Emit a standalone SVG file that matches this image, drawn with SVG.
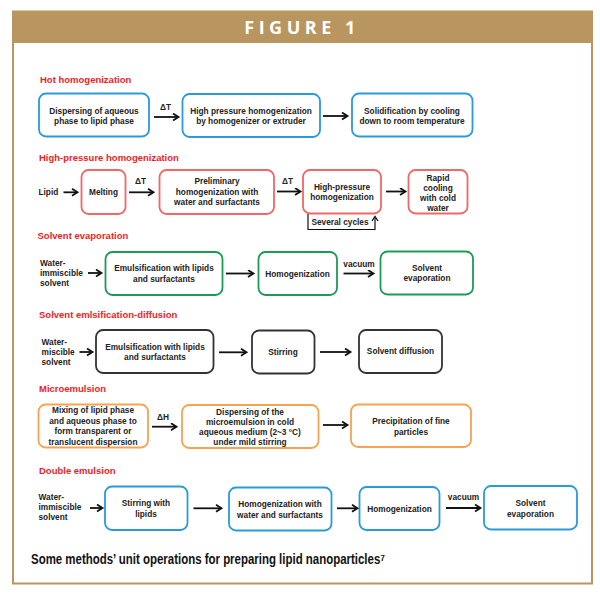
<svg xmlns="http://www.w3.org/2000/svg" width="600" height="598" viewBox="0 0 600 598">
<style>
.t{font-family:"Liberation Sans",Arial,sans-serif;font-size:8.3px;font-weight:bold;fill:#222;text-anchor:middle}
.l{font-family:"Liberation Sans",Arial,sans-serif;font-size:8.3px;font-weight:bold;fill:#222}
.h{font-family:"Liberation Sans",Arial,sans-serif;font-size:9.5px;font-weight:bold;fill:#ee1c25}
.b{fill:#fff;stroke-width:1.8}
.blue{stroke:#2a9ad9}
.red{stroke:#ef6767}
.green{stroke:#1c9b55}
.black{stroke:#333}
.orange{stroke:#f7a350}
.a{stroke:#111;stroke-width:1.8;fill:none;marker-end:url(#ah)}
.c{stroke:#111;stroke-width:1.2;fill:none}
</style>
<defs>
<marker id="ah" markerUnits="userSpaceOnUse" markerWidth="10" markerHeight="10" refX="6" refY="4" orient="auto">
<path d="M1,0.5 L6.5,4 L1,7.5" fill="none" stroke="#111" stroke-width="1.8"/>
</marker>
<marker id="ah2" markerUnits="userSpaceOnUse" markerWidth="10" markerHeight="10" refX="5" refY="4" orient="auto">
<path d="M1,1 L5.5,4 L1,7" fill="none" stroke="#111" stroke-width="1.3"/>
</marker>
</defs>
<rect width="600" height="598" fill="#fff"/>
<g id="frame">
<rect x="13" y="11.5" width="579" height="572" fill="#fff" stroke="#b9955f" stroke-width="2"/>
<rect x="13" y="11.5" width="579" height="31.5" fill="#b9955f"/>
<text x="302" y="33.5" font-family="'Open Sans','Liberation Sans',sans-serif" font-size="18" font-weight="bold" fill="#fff" text-anchor="middle" letter-spacing="4.5">FIGURE 1</text>
</g>
<g id="titles">
<text class="h" x="40" y="82.5">Hot homogenization</text>
<text class="h" x="39" y="160.5">High-pressure  homogenization</text>
<text class="h" x="37.5" y="238.5">Solvent evaporation</text>
<text class="h" x="39" y="317.5">Solvent emlsification-diffusion</text>
<text class="h" x="39" y="392">Microemulsion</text>
<text class="h" x="39" y="473.5">Double emulsion</text>
</g>
<g id="row1">
<g id="n1a"><rect class="b blue" x="39" y="93.5" width="110" height="43" rx="7"/><text class="t" x="94" y="113.5">Dispersing of aqueous</text><text class="t" x="94" y="124">phase to lipid phase</text></g>
<g id="n1b"><rect class="b blue" x="182.5" y="94" width="137.5" height="43" rx="7"/><text class="t" x="251" y="113.5">High pressure homogenization</text><text class="t" x="251" y="124">by homogenizer or extruder</text></g>
<g id="n1c"><rect class="b blue" x="352" y="93.5" width="120.5" height="43" rx="7"/><text class="t" x="412" y="113.5">Solidification by cooling</text><text class="t" x="412" y="124">down to room temperature</text></g>
</g>
<g id="row2">
<text class="l" x="38.5" y="195">Lipid</text>
<g id="n2a"><rect class="b red" x="81.5" y="170" width="44" height="44" rx="7"/><text class="t" x="103.5" y="195">Melting</text></g>
<g id="n2b"><rect class="b red" x="159.5" y="170" width="114.5" height="44" rx="7"/><text class="t" x="217" y="184">Preliminary</text><text class="t" x="217" y="194.5">homogenization with</text><text class="t" x="217" y="205">water and surfactants</text></g>
<g id="n2c"><rect class="b red" x="303" y="170" width="78" height="43.5" rx="7"/><text class="t" x="342" y="189.5">High-pressure</text><text class="t" x="342" y="200">homogenization</text></g>
<g id="n2d"><rect class="b red" x="408.5" y="170" width="59" height="43.5" rx="7"/><text class="t" x="438" y="181">Rapid</text><text class="t" x="438" y="191">cooling</text><text class="t" x="438" y="201">with cold</text><text class="t" x="438" y="211">water</text></g>
<text class="t" x="340" y="225">Several cycles</text>
</g>
<g id="row3">
<text class="l" x="40" y="266">Water-</text><text class="l" x="40" y="275.8">immiscible</text><text class="l" x="40" y="285.5">solvent</text>
<g id="n3a"><rect class="b green" x="105.5" y="252" width="117" height="43" rx="7"/><text class="t" x="164" y="271">Emulsification with lipids</text><text class="t" x="164" y="281.5">and surfactants</text></g>
<g id="n3b"><rect class="b green" x="258.5" y="252" width="78.5" height="43" rx="7"/><text class="t" x="297.5" y="276.5">Homogenization</text></g>
<g id="n3c"><rect class="b green" x="380.5" y="251.5" width="92.5" height="43" rx="7"/><text class="t" x="427" y="270.5">Solvent</text><text class="t" x="427" y="281">evaporation</text></g>
<text class="t" x="359" y="266.5">vacuum</text>
</g>
<g id="row4">
<text class="l" x="41.5" y="345">Water-</text><text class="l" x="41.5" y="354.8">miscible</text><text class="l" x="41.5" y="364.5">solvent</text>
<g id="n4a"><rect class="b black" x="96" y="330" width="117.5" height="43" rx="7"/><text class="t" x="155" y="349.5">Emulsification with lipids</text><text class="t" x="155" y="360">and surfactants</text></g>
<g id="n4b"><rect class="b black" x="252" y="330.5" width="62.5" height="43" rx="7"/><text class="t" x="283" y="355">Stirring</text></g>
<g id="n4c"><rect class="b black" x="359" y="330" width="83" height="43" rx="7"/><text class="t" x="400.5" y="354">Solvent diffusion</text></g>
</g>
<g id="row5">
<g id="n5a"><rect class="b orange" x="38.5" y="404.5" width="109.5" height="43" rx="7"/><text class="t" x="93" y="413">Mixing of lipid phase</text><text class="t" x="93" y="423.5">and aqueous phase to</text><text class="t" x="93" y="434">form transparent or</text><text class="t" x="93" y="444.5">translucent dispersion</text></g>
<g id="n5b"><rect class="b orange" x="182" y="405" width="136.5" height="43" rx="7"/><text class="t" x="250" y="414.5">Dispersing of the</text><text class="t" x="250" y="425">microemulsion in cold</text><text class="t" x="250" y="435">aqueous medium (2~3 °C)</text><text class="t" x="250" y="445">under mild stirring</text></g>
<g id="n5c"><rect class="b orange" x="351" y="404.5" width="120" height="42.5" rx="7"/><text class="t" x="411" y="424">Precipitation of fine</text><text class="t" x="411" y="434.5">particles</text></g>
</g>
<g id="row6">
<text class="l" x="38.5" y="500">Water-</text><text class="l" x="38.5" y="510">immiscible</text><text class="l" x="38.5" y="520">solvent</text>
<g id="n6a"><rect class="b blue" x="105" y="486.5" width="82.5" height="43.5" rx="7"/><text class="t" x="146" y="506">Stirring with</text><text class="t" x="146" y="516.5">lipids</text></g>
<g id="n6b"><rect class="b blue" x="229" y="487.5" width="102.5" height="43" rx="7"/><text class="t" x="280" y="507">Homogenization with</text><text class="t" x="280" y="517.5">water and surfactants</text></g>
<g id="n6c"><rect class="b blue" x="359.5" y="487" width="80" height="43" rx="7"/><text class="t" x="399.5" y="511.5">Homogenization</text></g>
<g id="n6d"><rect class="b blue" x="484" y="486" width="93" height="43.5" rx="7"/><text class="t" x="530.5" y="506">Solvent</text><text class="t" x="530.5" y="516.5">evaporation</text></g>
<text class="t" x="463.5" y="500">vacuum</text>
</g>
<g id="connectors">
<path class="a" d="M154,117 H178"/>
<path class="a" d="M323,116 H347"/>
<path class="a" d="M63.5,192.3 H77"/>
<path class="a" d="M129,192.3 H153"/>
<path class="a" d="M277,191.5 H300"/>
<path class="a" d="M386,191.5 H405"/>
<path class="c" d="M308,214 V229.5 H375 V217" marker-end="url(#ah2)"/>
<path class="a" d="M88,273 H101"/>
<path class="a" d="M226,273.5 H253"/>
<path class="a" d="M343.5,273.5 H373"/>
<path class="a" d="M79.5,352 H92"/>
<path class="a" d="M219,352.3 H246"/>
<path class="a" d="M320,352 H350"/>
<path class="a" d="M152,426.7 H176"/>
<path class="a" d="M323,425 H347"/>
<path class="a" d="M90,508 H102"/>
<path class="a" d="M193.5,508.3 H221"/>
<path class="a" d="M337,508.3 H357"/>
<path class="a" d="M446,508 H480"/>
</g>
<g id="labels">
<text class="t" x="165.5" y="110" font-size="9">ΔT</text>
<text class="t" x="140.5" y="183.5" font-size="9">ΔT</text>
<text class="t" x="287.5" y="183.5" font-size="9">ΔT</text>
<text class="t" x="163" y="419.5" font-size="9">ΔH</text>
</g>
<text x="31" y="563.5" font-family="'Liberation Sans Narrow','Liberation Sans',Arial,sans-serif" font-size="15" font-weight="bold" fill="#111" textLength="354" lengthAdjust="spacingAndGlyphs">Some methods’ unit operations for preparing lipid nanoparticles⁷</text>
</svg>
